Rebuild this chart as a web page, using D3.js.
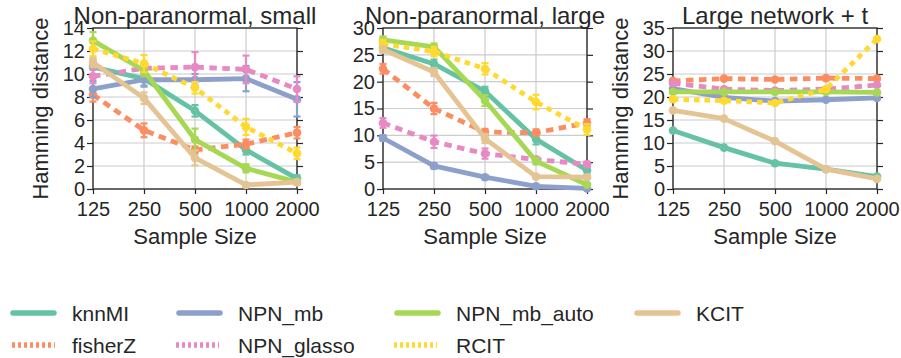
<!DOCTYPE html>
<html><head><meta charset="utf-8">
<script src="https://cdn.jsdelivr.net/npm/d3@7"></script>
<style>
body{margin:0;background:#fff;}
text{font-family:"Liberation Sans",Arial,sans-serif;fill:#262626;}
</style></head>
<body><svg id="c" width="901" height="358"></svg>
<script>
const sampleSizes = ["125","250","500","1000","2000"];
const methods = ["knnMI","fisherZ","NPN_mb","NPN_glasso","NPN_mb_auto","RCIT","KCIT"];
const colors = ["#66c2a5","#fc8d62","#8da0cb","#e78ac3","#a6d854","#ffd92f","#e5c494"];
const dashed = [false,true,false,true,false,true,false];
const panelTitles = ["Non-paranormal, small","Non-paranormal, large","Large network + t"];
const yMaxes = [14,30,35];
const yTickStep = [2,5,5];

// panel 1: Non-paranormal, small
const p1_knnMI      = [10.6, 9.6, 6.8, 3.4, 0.9];
const p1_fisherZ    = [8.2, 5.1, 3.4, 3.9, 4.9];
const p1_NPN_mb     = [8.7, 9.5, 9.5, 9.6, 7.8];
const p1_NPN_glasso = [9.8, 10.5, 10.6, 10.4, 8.7];
const p1_NPN_mb_auto= [12.9, 10.3, 4.3, 1.8, 0.6];
const p1_RCIT       = [12.2, 10.9, 8.8, 5.4, 3.1];
const p1_KCIT       = [11.0, 7.9, 2.7, 0.35, 0.6];
const p1_err_knnMI      = [0.65, 0.6, 0.5, 0.4, 0.3];
const p1_err_fisherZ    = [0.6, 0.6, 0.3, 0.4, 0.5];
const p1_err_NPN_mb     = [0.7, 0.6, 0.5, 1.1, 1.5];
const p1_err_NPN_glasso = [0.6, 0.5, 1.3, 1.2, 1.1];
const p1_err_NPN_mb_auto= [0.75, 0.5, 0.95, 0.35, 0.2];
const p1_err_RCIT       = [0.65, 0.75, 0.5, 0.7, 0.5];
const p1_err_KCIT       = [0.4, 0.5, 0.65, 0.15, 0.2];

// panel 2: Non-paranormal, large
const p2_knnMI      = [26.3, 23.3, 18.2, 9.3, 3.5];
const p2_fisherZ    = [22.4, 15.0, 10.6, 10.5, 12.3];
const p2_NPN_mb     = [9.5, 4.3, 2.2, 0.5, 0.1];
const p2_NPN_glasso = [12.3, 8.8, 6.6, 5.5, 4.6];
const p2_NPN_mb_auto= [27.8, 26.5, 16.5, 5.2, 0.8];
const p2_RCIT       = [27.0, 25.6, 22.4, 16.2, 11.1];
const p2_KCIT       = [26.0, 21.8, 9.4, 2.3, 2.2];
const p2_err_knnMI      = [0.7, 0.8, 0.85, 1.0, 0.8];
const p2_err_fisherZ    = [0.9, 1.05, 0.6, 0.6, 0.7];
const p2_err_NPN_mb     = [0.5, 0.5, 0.4, 0.3, 0.1];
const p2_err_NPN_glasso = [0.9, 1.15, 0.95, 0.5, 0.5];
const p2_err_NPN_mb_auto= [0.6, 0.6, 1.0, 0.6, 0.3];
const p2_err_RCIT       = [0.8, 0.9, 1.05, 1.35, 1.0];
const p2_err_KCIT       = [0.6, 0.75, 0.85, 0.3, 0.3];

// panel 3: Large network + t
const p3_knnMI      = [12.7, 9.0, 5.6, 4.3, 2.7];
const p3_fisherZ    = [23.5, 24.0, 23.8, 24.1, 24.0];
const p3_NPN_mb     = [21.8, 19.9, 19.1, 19.4, 19.8];
const p3_NPN_glasso = [23.0, 21.7, 21.4, 21.7, 22.6];
const p3_NPN_mb_auto= [21.1, 21.1, 21.1, 21.1, 21.0];
const p3_RCIT       = [19.5, 19.2, 18.7, 21.7, 32.6];
const p3_KCIT       = [17.1, 15.3, 10.4, 4.3, 2.2];

const panelValues = [
  [p1_knnMI,p1_fisherZ,p1_NPN_mb,p1_NPN_glasso,p1_NPN_mb_auto,p1_RCIT,p1_KCIT],
  [p2_knnMI,p2_fisherZ,p2_NPN_mb,p2_NPN_glasso,p2_NPN_mb_auto,p2_RCIT,p2_KCIT],
  [p3_knnMI,p3_fisherZ,p3_NPN_mb,p3_NPN_glasso,p3_NPN_mb_auto,p3_RCIT,p3_KCIT]
];
const panelErrors = [
  [p1_err_knnMI,p1_err_fisherZ,p1_err_NPN_mb,p1_err_NPN_glasso,p1_err_NPN_mb_auto,p1_err_RCIT,p1_err_KCIT],
  [p2_err_knnMI,p2_err_fisherZ,p2_err_NPN_mb,p2_err_NPN_glasso,p2_err_NPN_mb_auto,p2_err_RCIT,p2_err_KCIT],
  null
];

const svg = d3.select("#c");
const panelLeft = [93, 383, 673];
const pw = 204, plotTop = 28, plotBottom = 189;
const ink = "#262626";

panelTitles.forEach((title, pi) => {
  const x0 = panelLeft[pi];
  const x = d3.scalePoint().domain(sampleSizes).range([x0, x0 + pw]);
  const y = d3.scaleLinear().domain([0, yMaxes[pi]]).range([plotBottom, plotTop]);
  const yTicks = d3.range(0, yMaxes[pi] + 0.001, yTickStep[pi]);
  const g = svg.append("g");

  // grid
  g.append("g").selectAll("line").data(sampleSizes).join("line")
    .attr("x1", d => x(d)).attr("x2", d => x(d)).attr("y1", plotTop).attr("y2", plotBottom)
    .attr("stroke", "#cccccc").attr("stroke-width", 1.2);
  g.append("g").selectAll("line").data(yTicks).join("line")
    .attr("x1", x0).attr("x2", x0 + pw).attr("y1", d => y(d)).attr("y2", d => y(d))
    .attr("stroke", "#cccccc").attr("stroke-width", 1.2);

  // axes
  const axL = g.append("g").attr("transform", `translate(${x0},0)`)
    .call(d3.axisLeft(y).tickValues(yTicks).tickSize(6).tickPadding(2));
  const axR = g.append("g").attr("transform", `translate(${x0 + pw},0)`)
    .call(d3.axisRight(y).tickValues(yTicks).tickSize(6).tickFormat(""));
  const axB = g.append("g").attr("transform", `translate(0,${plotBottom})`)
    .call(d3.axisBottom(x).tickSize(5).tickPadding(8));
  [axL, axR, axB].forEach(a => {
    a.select(".domain").remove();
    a.selectAll("line").attr("stroke", ink).attr("stroke-width", 1.2);
    a.selectAll("text").style("font-size", "20px").attr("fill", ink)
      .style("font-family", '"Liberation Sans",Arial,sans-serif');
  });
  g.append("rect").attr("x", x0).attr("y", plotTop).attr("width", pw).attr("height", plotBottom - plotTop)
    .attr("fill", "none").attr("stroke", ink).attr("stroke-width", 1.3);

  // title and labels
  g.append("text").attr("x", x0 + pw / 2).attr("y", 24).attr("text-anchor", "middle")
    .style("font-size", "24px").text(title);
  g.append("text").attr("x", x0 + pw / 2).attr("y", 244).attr("text-anchor", "middle")
    .style("font-size", "22px").text("Sample Size");
  if (pi !== 1) {
    g.append("text").attr("transform", `translate(${x0 - 45},${(plotTop + plotBottom) / 2}) rotate(-90)`)
      .attr("text-anchor", "middle").style("font-size", "22px").text("Hamming distance");
  }

  const plot = g.append("g");
  methods.forEach((m, mi) => {
    const vals = panelValues[pi][mi];
    const errs = panelErrors[pi] ? panelErrors[pi][mi] : null;
    const pts = sampleSizes.map((s, i) => ({s, v: vals[i], e: errs ? errs[i] : 0}));
    const line = d3.line().x(d => x(d.s)).y(d => y(d.v));
    plot.append("path").datum(pts).attr("d", line)
      .attr("fill", "none").attr("stroke", colors[mi]).attr("stroke-width", 4.8)
      .attr("stroke-dasharray", dashed[mi] ? (mi === 5 ? "5.5,5" : "7.5,5.5") : null)
      .attr("stroke-linejoin", "round");
    if (errs) {
      const eb = plot.append("g").attr("stroke", colors[mi]).attr("stroke-width", 2.2);
      eb.selectAll(".v").data(pts).join("line")
        .attr("x1", d => x(d.s)).attr("x2", d => x(d.s))
        .attr("y1", d => y(d.v - d.e)).attr("y2", d => y(d.v + d.e));
      eb.selectAll(".t").data(pts).join("line")
        .attr("x1", d => x(d.s) - 3.5).attr("x2", d => x(d.s) + 3.5)
        .attr("y1", d => y(d.v + d.e)).attr("y2", d => y(d.v + d.e));
      eb.selectAll(".b").data(pts).join("line")
        .attr("x1", d => x(d.s) - 3.5).attr("x2", d => x(d.s) + 3.5)
        .attr("y1", d => y(d.v - d.e)).attr("y2", d => y(d.v - d.e));
    }
    plot.append("g").selectAll("circle").data(pts).join("circle")
      .attr("cx", d => x(d.s)).attr("cy", d => y(d.v)).attr("r", 4.3)
      .attr("fill", colors[mi]);
  });
});

// legend
const legendPos = [
  {x: 10, y: 313}, {x: 12, y: 345},
  {x: 176, y: 313}, {x: 176, y: 345},
  {x: 394, y: 313}, {x: 394, y: 345},
  {x: 634, y: 313}
];
const textX = [72, 72, 238, 238, 456, 456, 696];
const leg = svg.append("g");
methods.forEach((m, mi) => {
  const p = legendPos[mi];
  const len = dashed[mi] ? 43 : 47;
  leg.append("line").attr("x1", p.x + (dashed[mi] ? 0 : 3)).attr("x2", p.x + len - (dashed[mi] ? 0 : 3))
    .attr("y1", p.y).attr("y2", p.y)
    .attr("stroke", colors[mi]).attr("stroke-width", 5.5)
    .attr("stroke-linecap", dashed[mi] ? "butt" : "round")
    .attr("stroke-dasharray", dashed[mi] ? "3,3" : null);
  leg.append("text").attr("x", textX[mi]).attr("y", p.y + 7.5)
    .style("font-size", "21px").text(m);
});
</script></body></html>
